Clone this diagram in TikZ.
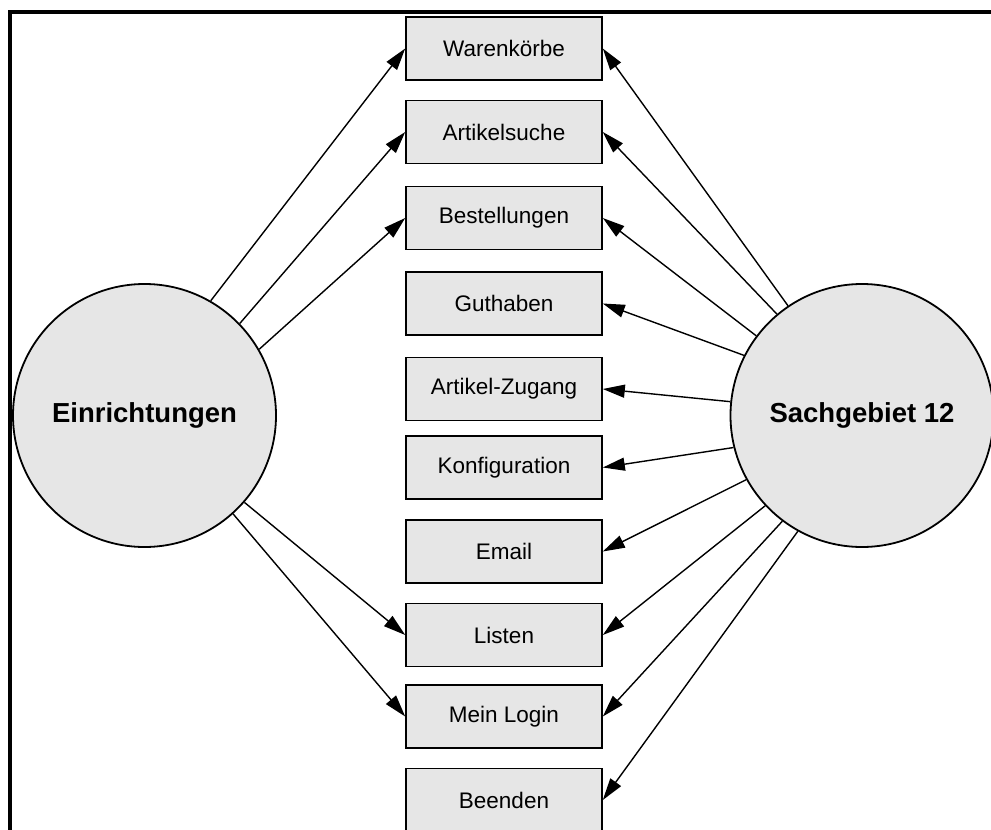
\documentclass[tikz,border=0pt]{standalone}
\usepackage{fontspec}
\setmainfont{Liberation Sans}
\usetikzlibrary{arrows.meta}
\definecolor{boxgray}{HTML}{E6E6E6}
\begin{document}
\begin{tikzpicture}[x=1pt,y=-1pt,
  menubox/.style={draw=black,line width=1.6pt,fill=boxgray,minimum width=196pt,
    minimum height=63pt,inner sep=0pt,font=\fontsize{22.5}{26}\selectfont},
  actor/.style={circle,draw=black,line width=1.8pt,fill=boxgray,minimum size=263pt,
    inner sep=0pt,font=\bfseries\fontsize{27.5}{32}\selectfont},
  link/.style={line width=1.4pt,-{Triangle[length=22pt,width=13pt]}}]
\useasboundingbox (0,0) rectangle (991,830);

% outer frame (runs off the right and bottom edges)
\draw[line width=4.2pt] (10,1000) -- (10,12) -- (1100,12);

% the two actors
\node[actor] (ein) at (144.5,415.5) {Einrichtungen};
\node[actor] (sg)  at (862,415.5) {Sachgebiet 12};

% menu entries
\node[menubox] (wk) at (504,48.5)  {Warenkörbe};
\node[menubox] (as) at (504,132)   {Artikelsuche};
\node[menubox] (be) at (504,218)   {Bestellungen};
\node[menubox] (gu) at (504,303.5) {Guthaben};
\node[menubox] (az) at (504,389)   {Artikel-Zugang};
\node[menubox] (ko) at (504,467.5) {Konfiguration};
\node[menubox] (em) at (504,551.5) {Email};
\node[menubox] (li) at (504,635)   {Listen};
\node[menubox] (ml) at (504,716.5) {Mein Login};
\node[menubox] (bd) at (504,800)   {Beenden};

% Einrichtungen
\draw[link] (ein.60)  -- (wk.west);
\draw[link] (ein.44)  -- (as.west);
\draw[link] (ein.30)  -- (be.west);
\draw[link] (ein.-41.5) -- (li.west);
\draw[link] (ein.-48.5) -- (ml.west);

% Sachgebiet 12
\draw[link] (sg.124.5) -- (wk.east);
\draw[link] (sg.130)   -- (as.east);
\draw[link] (sg.143)   -- (be.east);
\draw[link] (sg.153.5) -- (gu.east);
\draw[link] (sg.174.5) -- (az.east);
\draw[link] (sg.194.5) -- (ko.east);
\draw[link] (sg.209.5) -- (em.east);
\draw[link] (sg.223.5) -- (li.east);
\draw[link] (sg.233.5) -- (ml.east);
\draw[link] (sg.241)   -- (bd.east);
\end{tikzpicture}
\end{document}
